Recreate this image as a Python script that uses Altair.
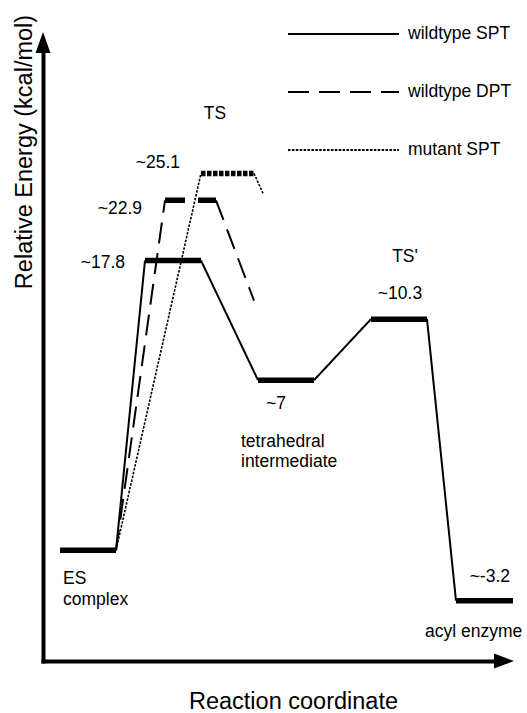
import altair as alt
import pandas as pd

FONT = "Liberation Sans"

# ---------------- data (schematic drawn heights / reaction-coordinate spans) -------------
series_names = ["wildtype SPT", "wildtype DPT", "mutant SPT"]

# energy levels: series, start / end on reaction coordinate, drawn height
level_series = ["wildtype SPT", "wildtype SPT", "wildtype DPT", "mutant SPT",
                "wildtype SPT", "wildtype SPT", "wildtype SPT"]
level_state = ["ES complex", "TS", "TS", "TS", "tetrahedral intermediate", "TS'", "acyl enzyme"]
level_x0 = [17, 102, 122, 158, 215, 328, 413]
level_x1 = [73, 158, 173, 211, 271, 384, 470]
level_y = [0.0, 17.8, 21.5, 23.15, 10.45, 14.2, -3.1]

# connecting lines between levels
conn_series = ["wildtype SPT"] * 4 + ["wildtype DPT"] * 2 + ["mutant SPT"] * 2
conn_x0 = [73, 158, 271, 384, 73, 173, 73, 211]
conn_y0 = [0.0, 17.8, 10.45, 14.2, 0.0, 21.5, 0.0, 23.15]
conn_x1 = [102, 215, 328, 413, 122, 211, 158, 220]
conn_y1 = [17.8, 10.45, 14.2, -3.1, 21.5, 15.34, 23.15, 21.92]

# annotations
label_text = ["~17.8", "~22.9", "~25.1", "TS", "TS'", "~10.3", "~7",
              "tetrahedral", "intermediate", "ES", "complex", "~-3.2", "acyl enzyme"]
label_x = [82, 99, 137, 172, 362, 357, 233, 198, 198, 20, 20, 467, 382]
label_y = [17.62, 20.99, 23.76, 26.83, 17.99, 15.77, 8.96, 6.68, 5.45, -1.79, -3.08, -1.67, -4.99]
label_align = ["right", "right", "right", "center", "center", "center", "center",
               "left", "left", "left", "left", "right", "left"]

X_DOMAIN = [0, 462]
Y_DOMAIN = [-6.8, 31.1]
PLOT_W, PLOT_H = 462, 617

levels = pd.DataFrame({"series": level_series, "state": level_state,
                       "x0": level_x0, "x1": level_x1, "y": level_y})
conns = pd.DataFrame({"series": conn_series, "x0": conn_x0, "y0": conn_y0,
                      "x1": conn_x1, "y1": conn_y1})
labels = pd.DataFrame({"text": label_text, "x": label_x, "y": label_y, "align": label_align})
one = pd.DataFrame({"k": [0]})

xscale = alt.Scale(domain=X_DOMAIN, nice=False, zero=False)
yscale = alt.Scale(domain=Y_DOMAIN, nice=False, zero=False)

xaxis = alt.Axis(title="Reaction coordinate", domain=True, domainWidth=4, domainColor="black",
                 domainCap="square", ticks=False, labels=False, grid=False,
                 titleFont=FONT, titleFontSize=23.5, titleFontWeight="normal", titleColor="black",
                 titleX=250, titleY=47.5, titleAlign="center", titleBaseline="alphabetic")
yaxis = alt.Axis(title="Relative Energy (kcal/mol)", domain=True, domainWidth=4, domainColor="black",
                 domainCap="square", ticks=False, labels=False, grid=False,
                 titleFont=FONT, titleFontSize=23.5, titleFontWeight="normal", titleColor="black",
                 titleAngle=270, titleX=-19, titleY=107.5, titleAlign="center", titleBaseline="middle")

level_layer = alt.Chart(levels).mark_rule(color="black", strokeWidth=5.5, strokeCap="butt").encode(
    x=alt.X("x0:Q", scale=xscale, axis=xaxis),
    x2="x1:Q",
    y=alt.Y("y:Q", scale=yscale, axis=yaxis),
    strokeDash=alt.StrokeDash("series:N", legend=None,
                              scale=alt.Scale(domain=series_names,
                                              range=[[1, 0], [20, 13], [4.5, 1.5]])),
)

conn_layer = alt.Chart(conns).mark_rule(color="black", strokeCap="butt").encode(
    x=alt.X("x0:Q", scale=xscale, axis=xaxis),
    y=alt.Y("y0:Q", scale=yscale, axis=yaxis),
    x2="x1:Q",
    y2="y1:Q",
    strokeWidth=alt.condition(alt.datum.series == "mutant SPT", alt.value(1.6), alt.value(2)),
    strokeDash=alt.StrokeDash(
        "series:N",
        scale=alt.Scale(domain=series_names, range=[[1, 0], [21, 10], [2.5, 1.4]]),
        legend=alt.Legend(title=None, orient="none", legendX=244, legendY=-20,
                          symbolType="stroke", symbolSize=111 ** 2, symbolStrokeWidth=2,
                          symbolStrokeColor="black", labelFont=FONT, labelFontSize=17.5,
                          labelColor="black", labelOffset=8, clipHeight=20, rowPadding=38,
                          padding=0, symbolOffset=0),
    ),
)

def text_layer(align):
    return alt.Chart(labels).transform_filter(alt.datum.align == align).mark_text(
        font=FONT, fontSize=17.5, color="black", align=align, baseline="middle"
    ).encode(
        x=alt.X("x:Q", scale=xscale, axis=xaxis),
        y=alt.Y("y:Q", scale=yscale, axis=yaxis),
        text="text:N",
    )

arrow_y = alt.Chart(one).mark_point(
    shape="M0,-0.571L-0.357,0.429L0.357,0.429Z", size=1764, filled=True,
    color="black", opacity=1, strokeWidth=0
).encode(x=alt.value(0), y=alt.value(0))

arrow_x = alt.Chart(one).mark_point(
    shape="M0.45,0L-0.55,-0.38L-0.55,0.38Z", size=1600, filled=True,
    color="black", opacity=1, strokeWidth=0
).encode(x=alt.value(PLOT_W), y=alt.value(PLOT_H))

chart = alt.layer(
    conn_layer, level_layer, text_layer("left"), text_layer("center"), text_layer("right"),
    arrow_y, arrow_x
).resolve_scale(strokeDash="independent").properties(
    width=PLOT_W, height=PLOT_H,
    autosize=alt.AutoSizeParams(type="none"),
    padding={"left": 43, "top": 44, "right": 22, "bottom": 52},
    background="white",
).configure_view(stroke=None)

chart.save("out.html", embed_options={"renderer": "svg", "actions": False})
